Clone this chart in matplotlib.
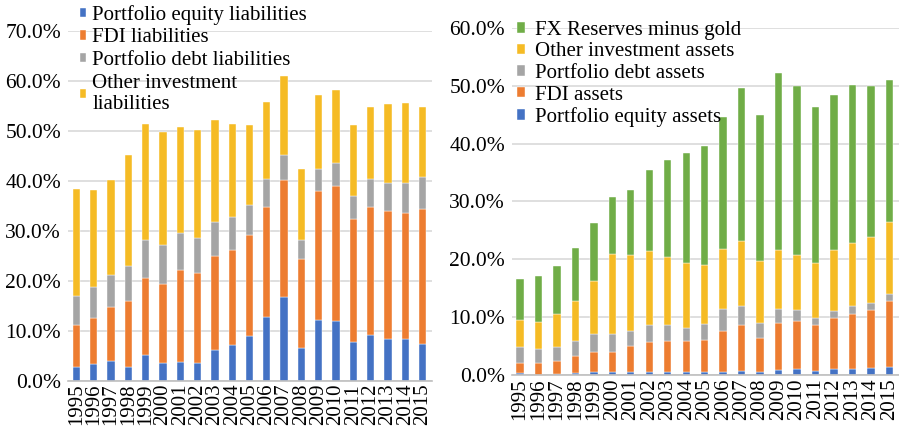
import numpy as np
import matplotlib
matplotlib.use("Agg")
import matplotlib.pyplot as plt
from matplotlib.ticker import FuncFormatter

plt.rcParams['font.family'] = ['Liberation Serif', 'DejaVu Serif']

years = [str(y) for y in range(1995, 2016)]

# liabilities (% of GDP), stacked bottom -> top
liab_equity = [2.9, 3.4, 4.1, 2.9, 5.2, 3.7, 3.9, 3.7, 6.2, 7.2, 9.1,
               12.9, 16.9, 6.7, 12.3, 12.0, 7.9, 9.2, 8.4, 8.5, 7.5]
liab_fdi = [8.3, 9.3, 10.8, 13.2, 15.5, 15.8, 18.4, 18.0, 18.9, 19.1, 20.2,
            22.0, 23.3, 17.8, 25.8, 27.1, 24.5, 25.7, 25.6, 25.2, 27.0]
liab_debt = [5.9, 6.2, 6.4, 7.0, 7.6, 7.8, 7.4, 7.0, 6.8, 6.6, 5.9,
             5.6, 5.1, 3.7, 4.3, 4.6, 4.7, 5.6, 5.7, 6.0, 6.4]
liab_other = [21.4, 19.3, 19.0, 22.1, 23.2, 22.5, 21.2, 21.5, 20.4, 18.5, 16.1,
              15.3, 15.7, 14.3, 14.8, 14.5, 14.2, 14.4, 15.8, 15.9, 13.9]

# assets (% of GDP), stacked bottom -> top
asset_equity = [0.35, 0.1, 0.3, 0.4, 0.5, 0.5, 0.6, 0.6, 0.5, 0.5, 0.5,
                0.6, 0.8, 0.5, 1.0, 1.1, 0.8, 1.1, 1.1, 1.3, 1.4]
asset_fdi = [1.85, 2.1, 2.2, 2.9, 3.5, 3.5, 4.5, 5.1, 5.4, 5.4, 5.6,
             7.0, 7.8, 6.0, 8.1, 8.2, 7.8, 8.8, 9.5, 9.9, 11.4]
asset_debt = [2.6, 2.4, 2.3, 2.7, 3.1, 3.1, 2.6, 2.9, 2.7, 2.2, 2.7,
              3.9, 3.4, 2.5, 2.4, 2.0, 1.3, 1.2, 1.3, 1.2, 1.3]
asset_other = [4.7, 4.6, 5.7, 6.9, 9.2, 13.8, 13.0, 12.8, 11.9, 11.2, 10.3,
               10.3, 11.1, 10.8, 10.2, 9.4, 9.4, 10.5, 11.0, 11.5, 12.3]
asset_fx = [7.2, 7.9, 8.3, 9.1, 10.0, 9.9, 11.2, 14.0, 16.7, 19.1, 20.4,
            22.7, 26.5, 25.1, 30.4, 29.2, 27.0, 26.7, 27.2, 26.1, 24.6]

c_blue = '#4472C4'
c_orange = '#ED7D31'
c_gray = '#A5A5A5'
c_yellow = '#F5BB25'
c_green = '#70AD47'

W, H = 899, 434
fig = plt.figure(figsize=(W / 100, H / 100), dpi=100)


def px_axes(x0, y0, x1, y1):
    # pixel box (top-left origin) -> figure axes
    return fig.add_axes([x0 / W, 1 - y1 / H, (x1 - x0) / W, (y1 - y0) / H])


def stack(ax, series, colors, labels, width):
    x = np.arange(len(years))
    bottom = np.zeros(len(years))
    handles = []
    for vals, col, lab in zip(series, colors, labels):
        v = np.array(vals) / 100.0
        h = ax.bar(x, v, width, bottom=bottom, color=col, label=lab,
                   edgecolor='white', linewidth=0.3, zorder=3)
        bottom += v
        handles.append(h)
    return handles


def style(ax, ymax):
    ax.set_ylim(0, ymax)
    ax.set_yticks(np.arange(0, ymax + 0.001, 0.1))
    ax.yaxis.set_major_formatter(FuncFormatter(lambda v, p: f"{v*100:.1f}%"))
    ax.set_xticks(np.arange(len(years)))
    ax.set_xticklabels(years, rotation=90, fontsize=15)
    ax.tick_params(axis='both', length=0, pad=2)
    ax.tick_params(axis='y', labelsize=15.5, pad=5)
    ax.grid(axis='y', color='#D9D9D9', linewidth=1.2, zorder=0)
    for s in ['top', 'right', 'left']:
        ax.spines[s].set_visible(False)
    ax.spines['bottom'].set_color('#BFBFBF')
    ax.spines['bottom'].set_linewidth(1.2)
    ax.spines['bottom'].set_zorder(4)


# left panel: liabilities
ax1 = px_axes(68, 31, 432, 381)
h1 = stack(ax1, [liab_equity, liab_fdi, liab_debt, liab_other],
           [c_blue, c_orange, c_gray, c_yellow],
           ['Portfolio equity liabilities', 'FDI liabilities',
            'Portfolio debt liabilities', 'Other investment\nliabilities'], 0.42)
ax1.set_xlim(-0.49, 20.55)
style(ax1, 0.70)
ax1.legend(handles=h1, loc='upper left', bbox_to_anchor=(80 / W, 1 - 5 / H),
           bbox_transform=fig.transFigure, frameon=False, fontsize=15,
           handlelength=0.3, handleheight=0.3, handletextpad=0.3,
           labelspacing=0.17, borderpad=0, borderaxespad=0)

# right panel: assets
ax2 = px_axes(512, 27.7, 899, 375.3)
h2 = stack(ax2, [asset_equity, asset_fdi, asset_debt, asset_other, asset_fx],
           [c_blue, c_orange, c_gray, c_yellow, c_green],
           ['Portfolio equity assets', 'FDI assets', 'Portfolio debt assets',
            'Other investment assets', 'FX Reserves minus gold'], 0.4)
ax2.set_xlim(-0.43, 20.52)
style(ax2, 0.60)
ax2.legend(handles=h2[::-1], loc='upper left', bbox_to_anchor=(517 / W, 1 - 21 / H),
           bbox_transform=fig.transFigure, frameon=False, fontsize=15,
           handlelength=0.4, handleheight=0.4, handletextpad=0.45,
           labelspacing=0.12, borderpad=0, borderaxespad=0)

fig.savefig('out.png', dpi=100)
